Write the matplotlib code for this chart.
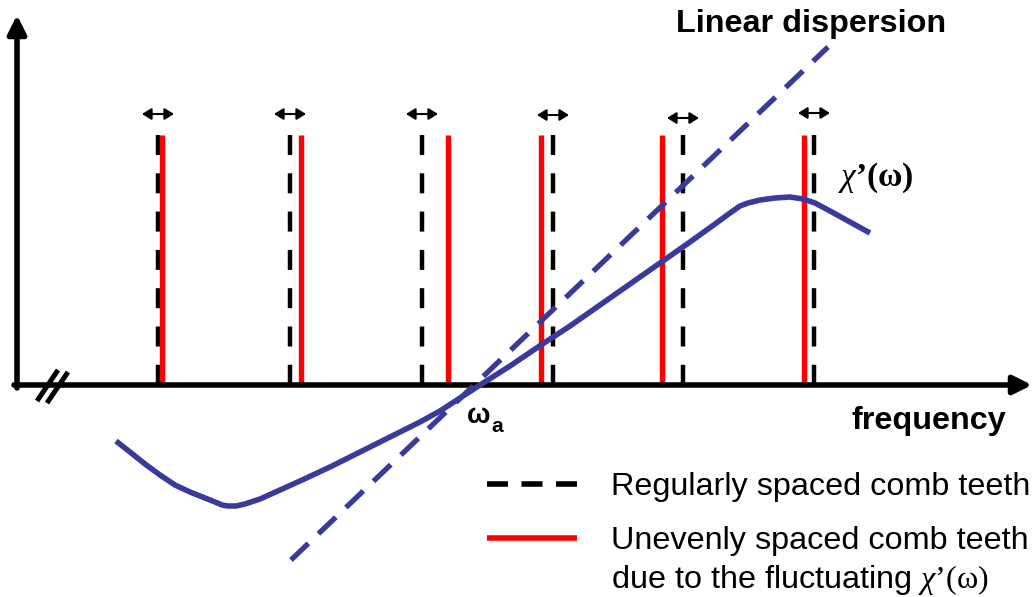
import matplotlib
matplotlib.use("Agg")
import matplotlib.pyplot as plt
from matplotlib.patches import FancyArrowPatch

plt.rcParams['lines.scale_dashes'] = False
plt.rcParams['mathtext.fontset'] = 'custom'
plt.rcParams['mathtext.rm'] = 'Liberation Serif'
plt.rcParams['mathtext.it'] = 'Liberation Serif:italic'
plt.rcParams['mathtext.bf'] = 'Liberation Serif:bold'

SANS = 'Liberation Sans'
BLUE = '#3a3a9c'
RED = '#ff0000'

# Comb teeth along the frequency axis
regular_teeth = [158, 290, 422, 553, 683, 814]
uneven_teeth = [162, 301, 448, 541, 662, 804]
tooth_height = 250
shift_arrow_y = [271, 271, 271, 270, 267, 272]
shift_arrow_half = 16

# Dispersive response chi'(omega) around the resonance omega_a
chi_freq = [116, 130, 145, 160, 175, 190, 205, 215, 222, 228, 236, 245, 260,
            280, 300, 330, 360, 400, 420, 440, 460, 480, 510, 541, 570, 600,
            630, 660, 690, 715, 730, 740, 748, 760, 775, 790, 803, 815, 830, 850, 870]
chi_value = [-56, -67, -79, -90, -100, -107, -113, -117, -120, -121, -121, -119, -114,
             -105, -96, -82, -67, -47, -37, -26, -13, 0, 19, 40, 59, 80,
             101, 122, 143, 161, 172, 179, 182, 185, 187, 188, 186, 182, 174, 163, 152]

# Linear dispersion reference line
linear_freq = [291, 828]
linear_value = [-175, 338]

# Axes frame
x_axis = (14, 1032)
y_axis = (-3, 370)
axis_x0 = 17
break_marks = [((37, -16), (58, 15)), ((47, -18), (68, 13))]

label_linear = "Linear dispersion"
label_freq = "frequency"
label_chi = r"$\mathit{\chi}\mathbf{’(\omega)}$"
legend_regular = "Regularly spaced comb teeth"
legend_uneven = "Unevenly spaced comb teeth"
legend_uneven2 = r"due to the fluctuating $\mathit{\chi}\mathrm{’(\omega)}$"

fig = plt.figure(figsize=(10.34, 5.97), dpi=100)
ax = fig.add_axes([0, 0, 1, 1])
ax.set_xlim(0, 1034)
ax.set_ylim(-212, 385)
ax.axis('off')

px = 0.72  # points per pixel at 100 dpi

# comb teeth
for x in regular_teeth:
    ax.plot([x, x], [tooth_height, 0], color='black', lw=3.2,
            dashes=(20 * px, 18.3 * px), solid_capstyle='butt',
            dash_capstyle='butt', zorder=2)
for x in uneven_teeth:
    ax.plot([x, x], [0, tooth_height], color=RED, lw=3.9,
            solid_capstyle='butt', zorder=2.5)

# small double arrows above the regular teeth
for x, y in zip(regular_teeth, shift_arrow_y):
    ax.add_patch(FancyArrowPatch((x - shift_arrow_half, y), (x + shift_arrow_half, y),
                                 arrowstyle='<|-|>,head_length=5.5,head_width=3.4',
                                 mutation_scale=1, lw=1.5, color='black',
                                 shrinkA=0, shrinkB=0, zorder=3))

# frequency and vertical axes
ax.add_patch(FancyArrowPatch((x_axis[0], 0), (x_axis[1], 0),
                             arrowstyle='-|>,head_length=11,head_width=5.5',
                             mutation_scale=1, lw=4, color='black',
                             shrinkA=0, shrinkB=0, zorder=4))
ax.add_patch(FancyArrowPatch((axis_x0, y_axis[0]), (axis_x0, y_axis[1]),
                             arrowstyle='-|>,head_length=11,head_width=5.5',
                             mutation_scale=1, lw=4, color='black',
                             shrinkA=0, shrinkB=0, zorder=4))
for (a, b) in break_marks:
    ax.plot([a[0], b[0]], [a[1], b[1]], color='black', lw=3.6,
            solid_capstyle='butt', zorder=4)

# dispersion curves
ax.plot(linear_freq, linear_value, color=BLUE, lw=3.8,
        dashes=(24 * px, 14 * px), dash_capstyle='butt', zorder=5)
ax.plot(chi_freq, chi_value, color=BLUE, lw=4.0, solid_joinstyle='round',
        solid_capstyle='butt', zorder=5)

# labels
ax.text(676, 353, label_linear, family=SANS, weight='bold', fontsize=23.3,
        ha='left', va='baseline')
ax.text(1006, -44, label_freq, family=SANS, weight='bold', fontsize=23.3,
        ha='right', va='baseline')
ax.text(467, -38, "ω", family=SANS, weight='bold', fontsize=20,
        ha='left', va='baseline')
ax.text(491, -47, "a", family=SANS, weight='bold', fontsize=15,
        ha='left', va='baseline')
ax.text(838, 199, label_chi, fontsize=24, ha='left', va='baseline')

# legend
ax.plot([487, 577], [-99, -99], color='black', lw=4,
        dashes=(21 * px, 13.5 * px), dash_capstyle='butt')
ax.plot([487, 577], [-153, -153], color=RED, lw=4, solid_capstyle='butt')
ax.text(611, -110, legend_regular, family=SANS, fontsize=23.3,
        ha='left', va='baseline')
ax.text(611, -164, legend_uneven, family=SANS, fontsize=23.3,
        ha='left', va='baseline')
ax.text(611, -203, legend_uneven2, family=SANS, fontsize=23.3,
        ha='left', va='baseline')

fig.savefig('out.png', dpi=100)
